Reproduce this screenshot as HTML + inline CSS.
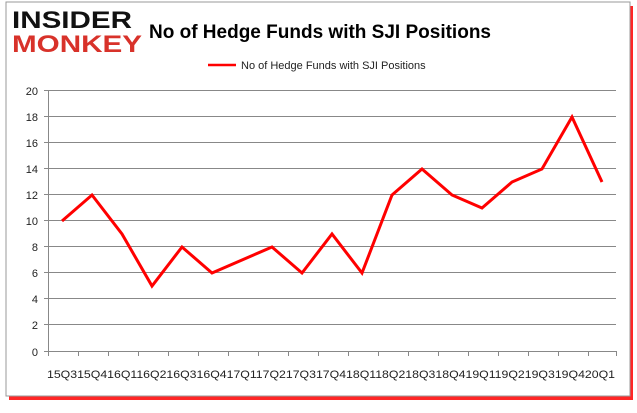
<!DOCTYPE html>
<html><head><style>
body{margin:0;background:#fff;width:637px;height:408px;overflow:hidden;font-family:"Liberation Sans",sans-serif}
</style></head><body>
<svg width="637" height="408" xmlns="http://www.w3.org/2000/svg" font-family="Liberation Sans, sans-serif">
<rect x="9" y="6" width="624" height="394" fill="#f00" opacity="0.85"/>
<rect x="6" y="2" width="624" height="394" fill="#fff" stroke="#999" stroke-width="1"/>
<text x="12" y="28" font-size="24" font-weight="bold" fill="#111" textLength="120" lengthAdjust="spacingAndGlyphs">INSIDER</text>
<text x="12" y="52" font-size="24" font-weight="bold" fill="#d8322a" textLength="130" lengthAdjust="spacingAndGlyphs">MONKEY</text>
<text x="320" y="38" font-size="19" font-weight="bold" text-anchor="middle" fill="#000">No of Hedge Funds with SJI Positions</text>
<line x1="208" y1="65" x2="236" y2="65" stroke="#f00" stroke-width="2.5"/>
<text x="241" y="69" font-size="11" fill="#222">No of Hedge Funds with SJI Positions</text>
<g stroke="#888" stroke-width="1">
<line x1="44" y1="90.5" x2="616" y2="90.5"/><line x1="44" y1="116.5" x2="616" y2="116.5"/>
<line x1="44" y1="142.5" x2="616" y2="142.5"/><line x1="44" y1="168.5" x2="616" y2="168.5"/>
<line x1="44" y1="194.5" x2="616" y2="194.5"/><line x1="44" y1="220.5" x2="616" y2="220.5"/>
<line x1="44" y1="246.5" x2="616" y2="246.5"/><line x1="44" y1="272.5" x2="616" y2="272.5"/>
<line x1="44" y1="298.5" x2="616" y2="298.5"/><line x1="44" y1="324.5" x2="616" y2="324.5"/>
<line x1="44" y1="351.5" x2="616" y2="351.5"/>
<line x1="48.5" y1="90" x2="48.5" y2="351"/>
</g>
<g font-size="11" fill="#222" text-anchor="end">
<text x="38" y="95">20</text><text x="38" y="121">18</text><text x="38" y="147">16</text><text x="38" y="173">14</text><text x="38" y="199">12</text><text x="38" y="225">10</text><text x="38" y="251">8</text><text x="38" y="277">6</text><text x="38" y="303">4</text><text x="38" y="329">2</text><text x="38" y="356">0</text>
</g>
<g stroke="#888">
<path d="M48.5 351v5M78.5 351v5M108.5 351v5M138.5 351v5M168.5 351v5M198.5 351v5M228.5 351v5M258.5 351v5M288.5 351v5M318.5 351v5M348.5 351v5M378.5 351v5M408.5 351v5M438.5 351v5M468.5 351v5M498.5 351v5M528.5 351v5M558.5 351v5M588.5 351v5M616.5 351v5"/>
</g>
<text x="47" y="378" font-size="11" fill="#222" textLength="568" lengthAdjust="spacingAndGlyphs">15Q315Q416Q116Q216Q316Q417Q117Q217Q317Q418Q118Q218Q318Q419Q119Q219Q319Q420Q1</text>
<polyline fill="none" stroke="#f00" stroke-width="3" stroke-linejoin="miter" points="62,221 92,195 122,234 152,286 182,247 212,273 242,260 272,247 302,273 332,234 362,273 392,195 422,169 452,195 482,208 512,182 542,169 572,117 602,182"/>
</svg>
</body></html>
